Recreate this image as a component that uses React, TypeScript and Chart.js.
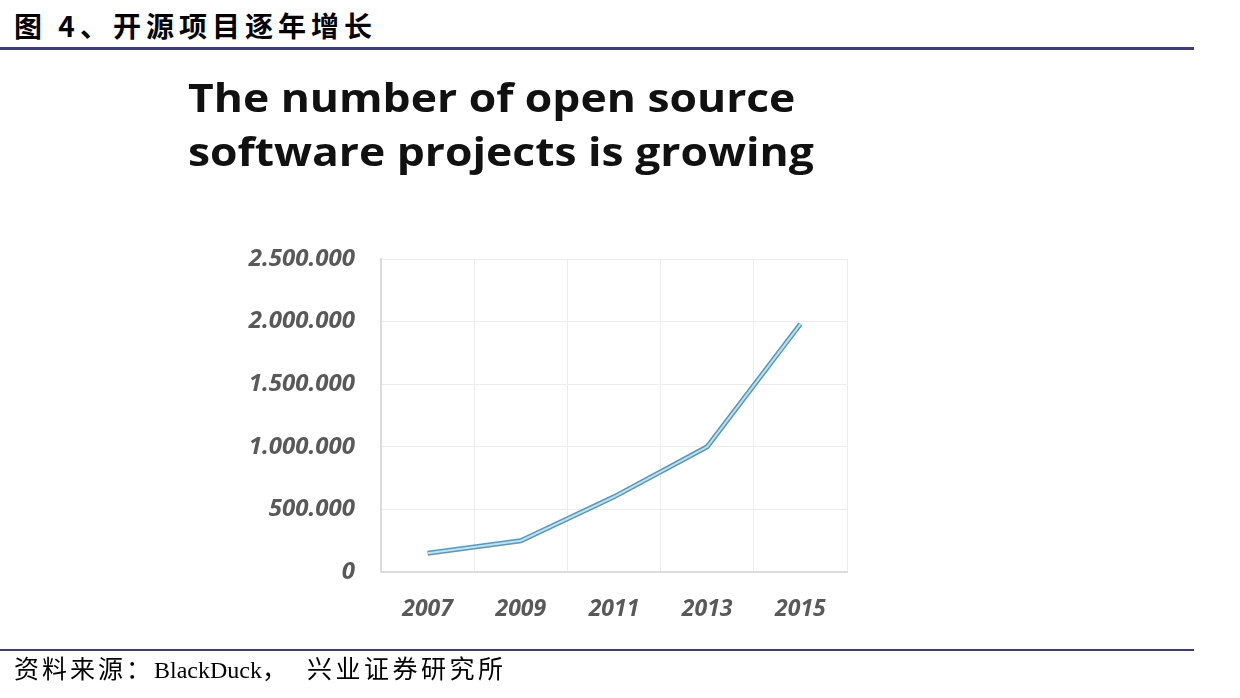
import React, { useEffect, useRef } from "react";
import { Chart, registerables } from "chart.js";

Chart.register(...registerables);

const years = ["2007", "2009", "2011", "2013", "2015"];
const projects = [150000, 250000, 600000, 1000000, 1980000];
const yTicksMax = 2500000;
const yTickStep = 500000;

const headerText = "图 4、开源项目逐年增长";
const titleLines = ["The number of open source", "software projects is growing"];
const sourceParts = ["资料来源：", "BlackDuck", "，", "兴业证券研究所"];

function fmt(v: number): string {
  return String(Math.round(v)).replace(/\B(?=(\d{3})+(?!\d))/g, ".");
}

export default function App() {
  const ref = useRef<HTMLCanvasElement | null>(null);

  useEffect(() => {
    if (!ref.current) return;
    const tickFont = { family: "'Open Sans', sans-serif", size: 23, style: "italic" as const, weight: "bold" as const };
    const chart = new Chart(ref.current, {
      type: "line",
      data: {
        labels: years,
        datasets: [
          {
            data: projects,
            borderColor: "#b9e3f3",
            borderWidth: 2,
            pointRadius: 0,
            tension: 0,
            fill: false,
            order: 0,
          },
          {
            data: projects,
            borderColor: "#5e97b5",
            borderWidth: 5,
            pointRadius: 0,
            tension: 0,
            fill: false,
            order: 1,
          },
        ],
      },
      options: {
        animation: false,
        responsive: false,
        maintainAspectRatio: false,
        layout: { padding: { left: 230, right: 393, top: 259, bottom: 66 } },
        plugins: { legend: { display: false }, tooltip: { enabled: false }, title: { display: false } },
        scales: {
          x: {
            offset: true,
            grid: { offset: true, color: "#ececec", lineWidth: 1, drawTicks: false },
            border: { color: "#dcdcdc", width: 2 },
            ticks: { color: "#595959", font: tickFont, padding: 24, maxRotation: 0 },
            afterFit: (s: any) => { s.height = 60; },
          },
          y: {
            min: 0,
            max: yTicksMax,
            grid: { color: "#ececec", lineWidth: 1, drawTicks: false },
            border: { color: "#dcdcdc", width: 2 },
            ticks: {
              stepSize: yTickStep,
              color: "#595959",
              font: { ...tickFont, size: 24 },
              padding: 26,
              callback: (v: any) => fmt(Number(v)),
            },
            afterFit: (s: any) => { s.width = 151; },
          },
        },
      },
    });
    return () => chart.destroy();
  }, []);

  const cjk: React.CSSProperties = { fontFamily: "'Noto Sans CJK SC', sans-serif", fontSize: 25, letterSpacing: 3 };
  const latin: React.CSSProperties = { fontFamily: "'Liberation Serif', serif", fontSize: 24 };

  return (
    <div style={{ position: "absolute", left: 0, top: 0, width: 1240, height: 698, background: "#fff", overflow: "hidden" }}>
      <div
        style={{
          position: "absolute",
          left: 14,
          top: 6,
          fontFamily: "'Noto Sans CJK SC', sans-serif",
          fontWeight: 700,
          fontSize: 28,
          letterSpacing: 5,
          lineHeight: "38px",
          color: "#000",
          whiteSpace: "nowrap",
        }}
      >
        {headerText}
      </div>
      <div style={{ position: "absolute", left: 0, top: 47, width: 1194, height: 3, background: "#3b3f75" }} />
      <canvas ref={ref} width={1240} height={698} style={{ position: "absolute", left: 0, top: 0 }} />
      <div
        style={{
          position: "absolute",
          left: 188,
          top: 70,
          fontFamily: "'Open Sans', sans-serif",
          fontWeight: 700,
          fontSize: 40,
          lineHeight: "54px",
          color: "#111",
          whiteSpace: "nowrap",
          transform: "scaleX(1.11)",
          transformOrigin: "left top",
        }}
      >
        {titleLines.map((l, i) => (
          <div key={i}>{l}</div>
        ))}
      </div>
      <div style={{ position: "absolute", left: 0, top: 649, width: 1194, height: 2, background: "#3b3f75" }} />
      <div
        style={{
          position: "absolute",
          left: 14,
          top: 650,
          lineHeight: "34px",
          color: "#000",
          whiteSpace: "nowrap",
        }}
      >
        <span style={cjk}>{sourceParts[0]}</span>
        <span style={latin}>{sourceParts[1]}</span>
        <span style={{ ...cjk, letterSpacing: 20 }}>{sourceParts[2]}</span>
        <span style={{ ...cjk, letterSpacing: 3.5 }}>{sourceParts[3]}</span>
      </div>
    </div>
  );
}
